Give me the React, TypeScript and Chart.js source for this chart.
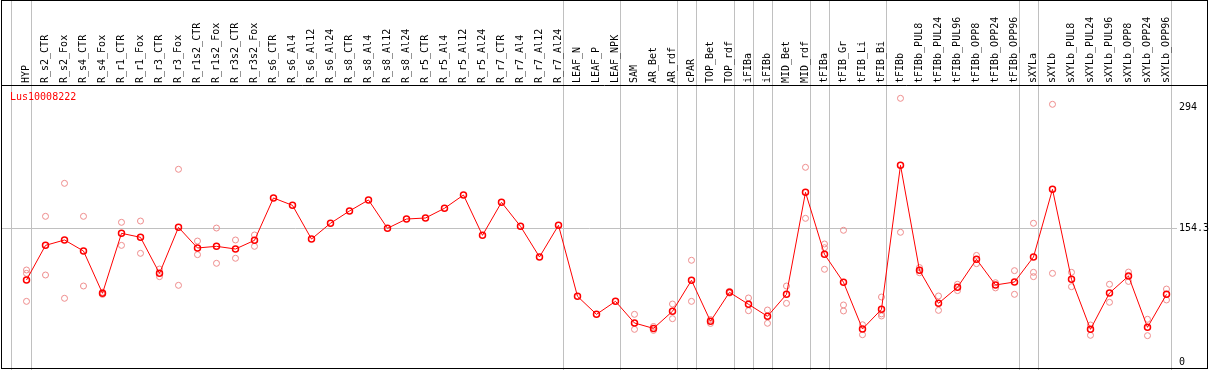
import React, { useEffect, useRef } from "react";
import { Chart, registerables } from "chart.js";

Chart.register(...registerables);

const categories = [
  "HYP", "R_s2_CTR", "R_s2_Fox", "R_s4_CTR", "R_s4_Fox", "R_r1_CTR", "R_r1_Fox", "R_r3_CTR", "R_r3_Fox",
  "R_r1s2_CTR", "R_r1s2_Fox", "R_r3s2_CTR", "R_r3s2_Fox", "R_s6_CTR", "R_s6_Al4", "R_s6_Al12", "R_s6_Al24",
  "R_s8_CTR", "R_s8_Al4", "R_s8_Al12", "R_s8_Al24", "R_r5_CTR", "R_r5_Al4", "R_r5_Al12", "R_r5_Al24",
  "R_r7_CTR", "R_r7_Al4", "R_r7_Al12", "R_r7_Al24", "LEAF_N", "LEAF_P", "LEAF_NPK", "SAM", "AR_Bet", "AR_rdf",
  "cPAR", "TOP_Bet", "TOP_rdf", "iFIBa", "iFIBb", "MID_Bet", "MID_rdf", "tFIBa", "tFIB_Gr", "tFIB_Li", "tFIB_Bi",
  "tFIBb", "tFIBb_PUL8", "tFIBb_PUL24", "tFIBb_PUL96", "tFIBb_OPP8", "tFIBb_OPP24", "tFIBb_OPP96", "sXYLa",
  "sXYLb", "sXYLb_PUL8", "sXYLb_PUL24", "sXYLb_PUL96", "sXYLb_OPP8", "sXYLb_OPP24", "sXYLb_OPP96",
];

const meanValues = [
  94.6, 134.6, 140.8, 128.1, 79.3, 148.5, 143.9, 102.3, 155.4, 131.6, 133.5, 130.4, 140.4,
  189.3, 180.8, 141.9, 160.1, 174.3, 187.0, 154.3, 165.0, 166.2, 177.4, 192.7, 146.2, 184.3, 156.6, 121.2, 157.8,
  75.8, 55.0, 70.0, 45.0, 38.8, 58.5, 94.3, 47.0, 80.4, 66.6, 52.7, 78.1, 195.8, 124.3, 92.0, 38.1, 60.8,
  227.0, 105.8, 67.7, 86.2, 118.5, 88.9, 92.3, 121.2, 199.3, 95.4, 37.7, 79.6, 99.2, 40.0, 78.1,
];

const replicate1 = [
  106.2, 168.1, 206.2, 168.1, 80.5, 161.2, 162.7, 107.3, 222.4, 139.6, 154.6, 140.8, 146.6,
  null, null, null, null, null, null, null, null, null, null, null, null, null, null, null, null,
  null, null, null, 55.0, 41.0, 66.9, 117.4, 49.0, 81.5, 73.9, 60.0, 87.7, 224.7, 136.2, 152.0, 43.0, 75.0,
  304.3, 109.0, 76.2, 89.7, 123.0, 91.5, 105.4, 160.1, 297.4, 103.5, 42.7, 89.7, 103.8, 49.3, 84.2,
];

const replicate2 = [
  70.0, 100.4, 73.5, 87.7, 78.0, 134.6, 125.4, 98.5, 88.5, 123.9, 113.9, 119.7, 133.5,
  null, null, null, null, null, null, null, null, null, null, null, null, null, null, null, null,
  null, null, null, 37.7, 36.5, 50.0, 70.0, 44.5, 79.5, 59.2, 44.7, 67.7, 165.8, 107.0, 58.9, 31.5, 53.1,
  149.7, 103.0, 59.6, 82.4, 113.5, 85.5, 78.1, 98.5, 102.3, 86.9, 30.8, 68.9, 93.0, 30.4, 71.6,
];

const replicate3 = [
  102.3, null, null, null, null, null, null, null, null, null, null, null, null,
  null, null, null, null, null, null, null, null, null, null, null, null, null, null, null, null,
  null, null, null, null, null, null, null, null, null, null, null, null, null, 131.9, 65.8, null, 55.5,
  null, null, null, null, null, null, null, 103.5, null, null, null, null, null, null, null,
];

const yTickValues = [0, 154.3, 294];
const separatorsAfter = [0, 28, 31, 34, 35, 37, 38, 39, 41, 42, 45, 52, 53, 60];
const geneName = "Lus10008222";

const FONT = "'DejaVu Sans Mono', monospace";
const RED = "#ff0000";
const PINK = "#ee8c8c";
const GRID = "#c0c0c0";

const toPoints = (arr: (number | null)[]) =>
  arr.map((v, i) => (v == null ? null : { x: i, y: v })).filter((p) => p !== null) as { x: number; y: number }[];

export default function App() {
  const ref = useRef<HTMLCanvasElement>(null);

  useEffect(() => {
    document.body.style.margin = "0";
    const canvas = ref.current;
    if (!canvas) return;

    const framePlugin = {
      id: "frame",
      beforeDraw(chart: any) {
        const ctx = chart.ctx;
        const xs = chart.scales.x;
        ctx.save();
        ctx.strokeStyle = GRID;
        ctx.lineWidth = 1;
        const lines = [-0.79, ...separatorsAfter.map((s) => s + 0.24)];
        for (const b of lines) {
          const px = Math.floor(xs.getPixelForValue(b)) + 0.5;
          ctx.beginPath();
          ctx.moveTo(px, 0);
          ctx.lineTo(px, chart.height);
          ctx.stroke();
        }
        ctx.restore();
      },
      afterDraw(chart: any) {
        const ctx = chart.ctx;
        const area = chart.chartArea;
        ctx.save();
        ctx.strokeStyle = "#000";
        ctx.lineWidth = 1;
        ctx.strokeRect(1.5, 0.5, 1206, 368);
        ctx.beginPath();
        ctx.moveTo(1, area.top + 0.5);
        ctx.lineTo(1208, area.top + 0.5);
        ctx.stroke();
        ctx.fillStyle = RED;
        ctx.font = `10px ${FONT}`;
        ctx.textBaseline = "middle";
        ctx.textAlign = "left";
        ctx.fillText(geneName, 10, 97);
        ctx.restore();
      },
    };

    const pinkSet = (label: string, arr: (number | null)[]) => ({
      label,
      data: toPoints(arr),
      showLine: false,
      borderColor: PINK,
      backgroundColor: "rgba(0,0,0,0)",
      pointRadius: 3,
      pointBorderWidth: 1,
      pointBorderColor: PINK,
      pointBackgroundColor: "rgba(0,0,0,0)",
      order: 1,
    });

    const chart = new Chart(canvas, {
      type: "line",
      data: {
        datasets: [
          {
            label: "mean",
            data: toPoints(meanValues),
            borderColor: RED,
            backgroundColor: "rgba(0,0,0,0)",
            borderWidth: 1,
            pointRadius: 3,
            pointBorderWidth: 1.5,
            pointBorderColor: RED,
            pointBackgroundColor: "rgba(0,0,0,0)",
            tension: 0,
            order: 0,
          } as any,
          pinkSet("rep1", replicate1) as any,
          pinkSet("rep2", replicate2) as any,
          pinkSet("rep3", replicate3) as any,
        ],
      },
      options: {
        responsive: false,
        animation: false,
        devicePixelRatio: 1,
        layout: { autoPadding: false, padding: { left: 2, right: 0, top: 0, bottom: 1 } },
        plugins: { legend: { display: false }, tooltip: { enabled: false } },
        scales: {
          x: {
            type: "linear",
            position: "top",
            min: -1.2895,
            max: 60.553,
            afterBuildTicks: (s: any) => {
              s.ticks = categories.map((_, i) => ({ value: i }));
            },
            afterFit: (s: any) => {
              s.height = 85;
              s.paddingLeft = 0;
              s.paddingRight = 0;
            },
            grid: { display: false, drawTicks: false },
            border: { display: false },
            ticks: {
              autoSkip: false,
              minRotation: 90,
              maxRotation: 90,
              padding: 2,
              labelOffset: 12,
              color: "#000",
              font: { family: FONT, size: 10 },
              callback: (v: any) => categories[Math.round(Number(v))] ?? "",
            },
          },
          y: {
            type: "linear",
            position: "right",
            min: -8.08,
            max: 319.68,
            afterBuildTicks: (s: any) => {
              s.ticks = yTickValues.map((v) => ({ value: v }));
            },
            afterFit: (s: any) => {
              s.width = 32;
              s.paddingTop = 0;
              s.paddingBottom = 0;
            },
            grid: {
              drawTicks: false,
              color: (c: any) => (c.tick && c.tick.value === 154.3 ? GRID : "rgba(0,0,0,0)"),
            },
            border: { display: false },
            ticks: {
              padding: 2,
              color: "#000",
              font: { family: FONT, size: 10 },
              callback: (v: any) => String(v),
            },
          },
        },
      } as any,
      plugins: [framePlugin],
    });

    return () => chart.destroy();
  }, []);

  return (
    <div style={{ position: "absolute", left: 0, top: 0, width: 1209, height: 370 }}>
      <canvas ref={ref} width={1209} height={370} style={{ display: "block" }} />
    </div>
  );
}
